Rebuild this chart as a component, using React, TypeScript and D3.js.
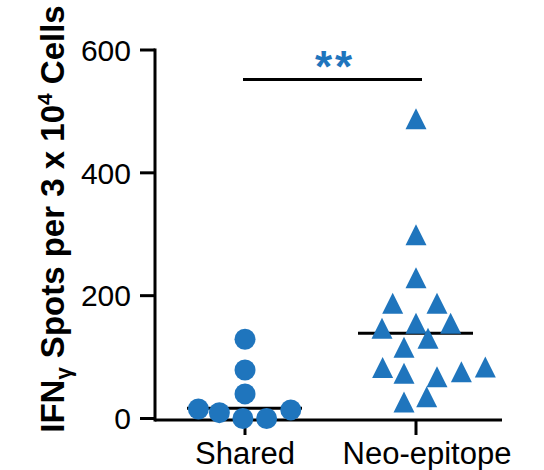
import React from "react";
import * as d3 from "d3";

const categories = ["Shared", "Neo-epitope"];
const sharedValues = [129, 79, 40, 15.5, 9.5, 0, 0, 14];
const sharedJitter = [0, 0, 0, -2.22, -1.22, -0.1, 1.03, 2.18];
const neoValues = [488, 299, 229, 187.6, 187.6, 147, 155, 155, 130.6, 116, 83, 73.6, 68, 76, 84, 27, 35.5];
const neoJitter = [0, 0, 0, -1.11, 1.0, -1.62, 0, 1.65, 0.57, -0.57, -1.59, -0.57, 1.0, 2.16, 3.3, -0.57, 0.51];
const medians = [16.5, 138.7];
const yTicks = [0, 200, 400, 600];
const significance = "**";

const W = 544;
const H = 470;
const BLUE = "#1f75bd";
const FONT = "Liberation Sans, Arial, Helvetica, sans-serif";

export default function App() {
  const y = d3.scaleLinear().domain([0, 600]).range([418.5, 50]);
  const x = d3.scalePoint<string>().domain(categories).range([245, 416]);
  const axisLeft = 155;
  const axisRight = 502;
  const axisY = 420;
  const markSize = 21;
  const r = 10.5;
  const labelDx = [0, 11];

  const tri = (cx: number, cy: number) => {
    const p = d3.path();
    const h = markSize;
    const w = markSize;
    p.moveTo(cx, cy - h / 2);
    p.lineTo(cx + w / 2, cy + h / 2);
    p.lineTo(cx - w / 2, cy + h / 2);
    p.closePath();
    return p.toString();
  };

  const sx = x(categories[0])!;
  const nx = x(categories[1])!;

  return (
    <svg width={W} height={H} style={{ position: "absolute", left: 0, top: 0 }} fontFamily={FONT}>
      <rect width={W} height={H} fill="white" />
      {/* y axis */}
      <line x1={axisLeft} x2={axisLeft} y1={y(600) - 1.5} y2={axisY + 1.5} stroke="black" strokeWidth={3} />
      {yTicks.map((t) => (
        <g key={t}>
          <line x1={axisLeft - 15} x2={axisLeft} y1={y(t)} y2={y(t)} stroke="black" strokeWidth={3} />
          <text x={axisLeft - 24} y={y(t)} dy="0.36em" textAnchor="end" fontSize={30} fill="black">
            {t}
          </text>
        </g>
      ))}
      {/* x axis */}
      <line x1={axisLeft} x2={axisRight} y1={axisY} y2={axisY} stroke="black" strokeWidth={3} />
      {categories.map((c, i) => (
        <g key={c}>
          <line x1={x(c)!} x2={x(c)!} y1={axisY} y2={axisY + 15} stroke="black" strokeWidth={3} />
          <text x={x(c)! + labelDx[i]} y={464} textAnchor="middle" fontSize={31} fill="black">
            {c}
          </text>
        </g>
      ))}
      {/* y label */}
      <text
        transform={`translate(64,219) rotate(-90)`}
        textAnchor="middle"
        fontSize={33}
        fontWeight="bold"
        fill="black"
      >
        IFN
        <tspan fontSize={22} dy={7}>γ</tspan>
        <tspan dy={-7}> Spots per 3 x 10</tspan>
        <tspan fontSize={21} dy={-12}>4</tspan>
        <tspan dy={12}> Cells</tspan>
      </text>
      {/* median lines */}
      {categories.map((c, i) => (
        <line key={c} x1={x(c)! - 58} x2={x(c)! + 57} y1={y(medians[i])} y2={y(medians[i])} stroke="black" strokeWidth={3} />
      ))}
      {/* shared circles */}
      {sharedValues.map((v, i) => (
        <circle key={i} cx={sx + sharedJitter[i] * markSize} cy={y(v)} r={r} fill={BLUE} />
      ))}
      {/* neo triangles */}
      {neoValues.map((v, i) => (
        <path key={i} d={tri(nx + neoJitter[i] * markSize, y(v))} fill={BLUE} />
      ))}
      {/* significance */}
      <line x1={243} x2={422} y1={79.5} y2={79.5} stroke="black" strokeWidth={3} />
      <text x={335} y={82} textAnchor="middle" fontSize={44} fontWeight="bold" fill={BLUE} letterSpacing={3}>
        {significance}
      </text>
    </svg>
  );
}
